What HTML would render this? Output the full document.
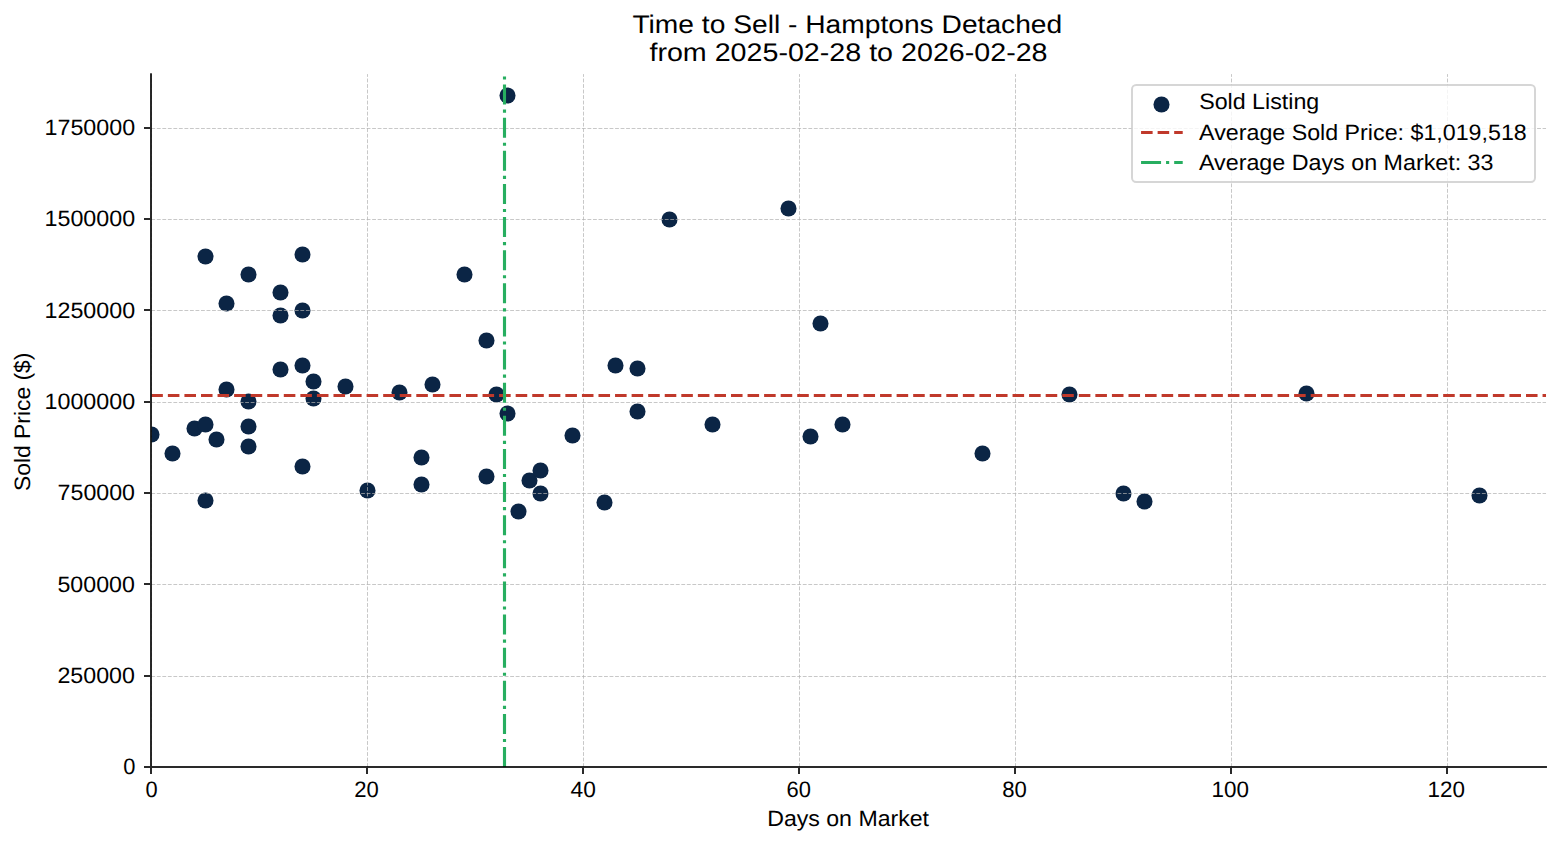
<!DOCTYPE html>
<html><head><meta charset="utf-8"><title>Time to Sell - Hamptons Detached</title>
<style>
html,body{margin:0;padding:0;background:#fff;overflow:hidden}
svg{display:block}
text{font-family:"Liberation Sans",sans-serif;fill:#000;text-rendering:geometricPrecision}
</style></head><body>
<svg width="1560" height="845" viewBox="0 0 1560 845">
<defs><clipPath id="ax"><rect x="151.30" y="74.12" width="1394.82" height="692.88"/></clipPath></defs>
<rect width="1560" height="845" fill="#fff"/>
<g clip-path="url(#ax)">
<g fill="#0b2545">
<circle cx="151.5" cy="434.5" r="8.03"/><circle cx="172.5" cy="453.5" r="8.03"/><circle cx="194.5" cy="428.5" r="8.03"/><circle cx="205.5" cy="256.5" r="8.03"/><circle cx="205.5" cy="424.5" r="8.03"/><circle cx="205.5" cy="500.5" r="8.03"/><circle cx="216.5" cy="439.5" r="8.03"/><circle cx="226.5" cy="303.5" r="8.03"/><circle cx="226.5" cy="389.5" r="8.03"/><circle cx="248.5" cy="274.5" r="8.03"/><circle cx="248.5" cy="401.5" r="8.03"/><circle cx="248.5" cy="426.5" r="8.03"/><circle cx="248.5" cy="446.5" r="8.03"/><circle cx="280.5" cy="292.5" r="8.03"/><circle cx="280.5" cy="315.5" r="8.03"/><circle cx="280.5" cy="369.5" r="8.03"/><circle cx="302.5" cy="254.5" r="8.03"/><circle cx="302.5" cy="310.5" r="8.03"/><circle cx="302.5" cy="365.5" r="8.03"/><circle cx="302.5" cy="466.5" r="8.03"/><circle cx="313.5" cy="381.5" r="8.03"/><circle cx="313.5" cy="398.5" r="8.03"/><circle cx="345.5" cy="386.5" r="8.03"/><circle cx="367.5" cy="490.5" r="8.03"/><circle cx="399.5" cy="392.5" r="8.03"/><circle cx="421.5" cy="457.5" r="8.03"/><circle cx="421.5" cy="484.5" r="8.03"/><circle cx="432.5" cy="384.5" r="8.03"/><circle cx="464.5" cy="274.5" r="8.03"/><circle cx="486.5" cy="340.5" r="8.03"/><circle cx="486.5" cy="476.5" r="8.03"/><circle cx="496.5" cy="394.5" r="8.03"/><circle cx="507.5" cy="95.5" r="8.03"/><circle cx="507.5" cy="413.5" r="8.03"/><circle cx="518.5" cy="511.5" r="8.03"/><circle cx="529.5" cy="480.5" r="8.03"/><circle cx="540.5" cy="470.5" r="8.03"/><circle cx="540.5" cy="493.5" r="8.03"/><circle cx="572.5" cy="435.5" r="8.03"/><circle cx="604.5" cy="502.5" r="8.03"/><circle cx="615.5" cy="365.5" r="8.03"/><circle cx="637.5" cy="368.5" r="8.03"/><circle cx="637.5" cy="411.5" r="8.03"/><circle cx="669.5" cy="219.5" r="8.03"/><circle cx="712.5" cy="424.5" r="8.03"/><circle cx="788.5" cy="208.5" r="8.03"/><circle cx="810.5" cy="436.5" r="8.03"/><circle cx="820.5" cy="323.5" r="8.03"/><circle cx="842.5" cy="424.5" r="8.03"/><circle cx="982.5" cy="453.5" r="8.03"/><circle cx="1069.5" cy="394.5" r="8.03"/><circle cx="1123.5" cy="493.5" r="8.03"/><circle cx="1144.5" cy="501.5" r="8.03"/><circle cx="1306.5" cy="393.5" r="8.03"/><circle cx="1479.5" cy="495.5" r="8.03"/>
</g>
<g stroke="#b0b0b0" stroke-opacity="0.7" stroke-width="1" stroke-dasharray="3.854 1.667" fill="none">
<line x1="151.5" y1="767.00" x2="151.5" y2="74.12"/><line x1="367.5" y1="767.00" x2="367.5" y2="74.12"/><line x1="583.5" y1="767.00" x2="583.5" y2="74.12"/><line x1="799.5" y1="767.00" x2="799.5" y2="74.12"/><line x1="1015.5" y1="767.00" x2="1015.5" y2="74.12"/><line x1="1231.5" y1="767.00" x2="1231.5" y2="74.12"/><line x1="1447.5" y1="767.00" x2="1447.5" y2="74.12"/><line x1="151.30" y1="767.5" x2="1546.12" y2="767.5"/><line x1="151.30" y1="676.5" x2="1546.12" y2="676.5"/><line x1="151.30" y1="584.5" x2="1546.12" y2="584.5"/><line x1="151.30" y1="493.5" x2="1546.12" y2="493.5"/><line x1="151.30" y1="402.5" x2="1546.12" y2="402.5"/><line x1="151.30" y1="310.5" x2="1546.12" y2="310.5"/><line x1="151.30" y1="219.5" x2="1546.12" y2="219.5"/><line x1="151.30" y1="128.5" x2="1546.12" y2="128.5"/>
</g>
<line x1="151.30" y1="395.5" x2="1546.12" y2="395.5" stroke="#c0392b" stroke-width="3.125" stroke-dasharray="11.5625 5"/>
<line x1="504.5" y1="767.00" x2="504.5" y2="74.12" stroke="#27ae60" stroke-width="3.125" stroke-dasharray="20 5 3.125 5"/>
</g>
<g fill="#000" fill-opacity="0.835">
<rect x="150" y="73.29" width="2" height="694.71"/><rect x="152" y="766" width="1394.95" height="2"/><rect x="150" y="768" width="2" height="6"/><rect x="366" y="768" width="2" height="6"/><rect x="582" y="768" width="2" height="6"/><rect x="798" y="768" width="2" height="6"/><rect x="1014" y="768" width="2" height="6"/><rect x="1230" y="768" width="2" height="6"/><rect x="1446" y="768" width="2" height="6"/><rect x="144" y="766" width="6" height="2"/><rect x="144" y="675" width="6" height="2"/><rect x="144" y="583" width="6" height="2"/><rect x="144" y="492" width="6" height="2"/><rect x="144" y="401" width="6" height="2"/><rect x="144" y="309" width="6" height="2"/><rect x="144" y="218" width="6" height="2"/><rect x="144" y="127" width="6" height="2"/>
</g>
<rect x="1132" y="85" width="403" height="97" rx="4.17" ry="4.17" fill="#fff" fill-opacity="0.8" stroke="#ccc" stroke-opacity="0.8" stroke-width="2"/>
<circle cx="1161.5" cy="104.5" r="8.03" fill="#0b2545"/>
<line x1="1141.06" y1="132.5" x2="1182.72" y2="132.5" stroke="#c0392b" stroke-width="3.125" stroke-dasharray="11.5625 5"/>
<line x1="1141.06" y1="162.5" x2="1182.72" y2="162.5" stroke="#27ae60" stroke-width="3.125" stroke-dasharray="20 5 3.125 5"/>
<text x="847.32" y="33.41" font-size="25.45" textLength="429.81" lengthAdjust="spacingAndGlyphs" text-anchor="middle">Time to Sell - Hamptons Detached</text>
<text x="848.49" y="61.21" font-size="25.45" textLength="398.13" lengthAdjust="spacingAndGlyphs" text-anchor="middle">from 2025-02-28 to 2026-02-28</text>
<text x="151.56" y="797.25" font-size="22.20" textLength="12.15" lengthAdjust="spacingAndGlyphs" text-anchor="middle">0</text>
<text x="366.52" y="797.32" font-size="22.20" textLength="24.54" lengthAdjust="spacingAndGlyphs" text-anchor="middle">20</text>
<text x="583.21" y="797.24" font-size="22.20" textLength="25.32" lengthAdjust="spacingAndGlyphs" text-anchor="middle">40</text>
<text x="798.67" y="797.18" font-size="22.20" textLength="24.41" lengthAdjust="spacingAndGlyphs" text-anchor="middle">60</text>
<text x="1014.52" y="797.30" font-size="22.20" textLength="24.61" lengthAdjust="spacingAndGlyphs" text-anchor="middle">80</text>
<text x="1230.25" y="797.24" font-size="22.20" textLength="37.48" lengthAdjust="spacingAndGlyphs" text-anchor="middle">100</text>
<text x="1446.23" y="797.32" font-size="22.20" textLength="37.48" lengthAdjust="spacingAndGlyphs" text-anchor="middle">120</text>
<text x="135.54" y="774.24" font-size="22.20" textLength="12.17" lengthAdjust="spacingAndGlyphs" text-anchor="end">0</text>
<text x="134.99" y="683.29" font-size="22.20" textLength="77.54" lengthAdjust="spacingAndGlyphs" text-anchor="end">250000</text>
<text x="134.83" y="592.12" font-size="22.20" textLength="77.34" lengthAdjust="spacingAndGlyphs" text-anchor="end">500000</text>
<text x="134.98" y="500.23" font-size="22.20" textLength="77.37" lengthAdjust="spacingAndGlyphs" text-anchor="end">750000</text>
<text x="135.19" y="409.23" font-size="22.20" textLength="90.69" lengthAdjust="spacingAndGlyphs" text-anchor="end">1000000</text>
<text x="135.19" y="318.26" font-size="22.20" textLength="90.69" lengthAdjust="spacingAndGlyphs" text-anchor="end">1250000</text>
<text x="135.19" y="226.22" font-size="22.20" textLength="90.69" lengthAdjust="spacingAndGlyphs" text-anchor="end">1500000</text>
<text x="135.19" y="135.22" font-size="22.20" textLength="90.69" lengthAdjust="spacingAndGlyphs" text-anchor="end">1750000</text>
<text x="848.13" y="825.97" font-size="22.20" textLength="161.86" lengthAdjust="spacingAndGlyphs" text-anchor="middle">Days on Market</text>
<text transform="translate(29.56,421.84) rotate(-90)" x="0" y="0" font-size="22.20" textLength="138.47" lengthAdjust="spacingAndGlyphs" text-anchor="middle">Sold Price ($)</text>
<text x="1199.18" y="108.81" font-size="22.20" textLength="120.12" lengthAdjust="spacingAndGlyphs">Sold Listing</text>
<text x="1199.11" y="139.68" font-size="22.20" textLength="327.63" lengthAdjust="spacingAndGlyphs">Average Sold Price: $1,019,518</text>
<text x="1198.96" y="169.99" font-size="22.20" textLength="294.56" lengthAdjust="spacingAndGlyphs">Average Days on Market: 33</text>
</svg>
</body></html>
